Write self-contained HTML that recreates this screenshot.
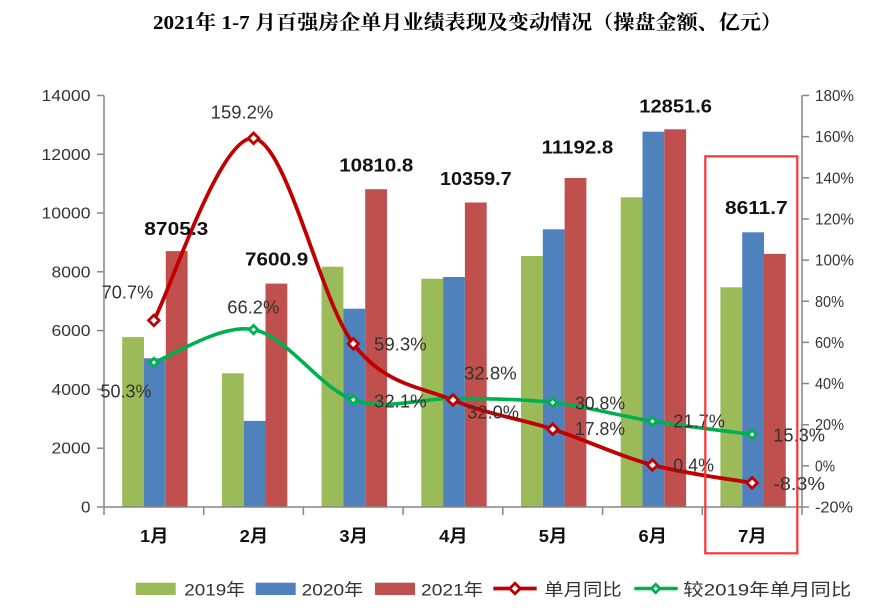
<!DOCTYPE html>
<html>
<head>
<meta charset="utf-8">
<style>
  html, body { margin: 0; padding: 0; background: #ffffff; }
  body { width: 894px; height: 615px; overflow: hidden; }
  svg { display: block; }
  .ax { font-family: "Liberation Sans", "Noto Sans CJK SC", sans-serif; font-size: 15.5px; fill: #333; }
  .pct { font-family: "Liberation Sans", "Noto Sans CJK SC", sans-serif; font-size: 18px; fill: #333; }
  .bold { font-family: "Liberation Sans", "Noto Sans CJK SC", sans-serif; font-size: 18px; font-weight: bold; fill: #111; }
  .cat { font-family: "Liberation Sans", "Noto Sans CJK SC", sans-serif; font-size: 17.5px; font-weight: bold; fill: #111; }
  .leg { font-family: "Liberation Sans", "Noto Sans CJK SC", sans-serif; font-size: 17px; fill: #333; }
  .title { font-family: "Liberation Serif", "Noto Serif CJK SC", serif; font-size: 20px; font-weight: bold; fill: #000; }
</style>
</head>
<body>
<svg width="894" height="615" viewBox="0 0 894 615" xmlns="http://www.w3.org/2000/svg">
  <rect x="0" y="0" width="894" height="615" fill="#ffffff"/>

  <!-- Title -->
  <text class="title" x="153" y="29" textLength="629" lengthAdjust="spacingAndGlyphs">2021年 1-7 月百强房企单月业绩表现及变动情况（操盘金额、亿元）</text>

  <!-- Bars 2019 (green) -->
  <g fill="#9bbb59">
    <rect x="122.2" y="337.1" width="21.8" height="169.9"/>
    <rect x="221.9" y="373.3" width="21.8" height="133.7"/>
    <rect x="321.6" y="266.7" width="21.8" height="240.3"/>
    <rect x="421.3" y="278.7" width="21.8" height="228.3"/>
    <rect x="521.0" y="256.0" width="21.8" height="251.0"/>
    <rect x="620.7" y="197.3" width="21.8" height="309.7"/>
    <rect x="720.4" y="287.3" width="21.8" height="219.7"/>
  </g>
  <!-- Bars 2020 (blue) -->
  <g fill="#4f81bd">
    <rect x="144.0" y="358.3" width="21.8" height="148.7"/>
    <rect x="243.7" y="420.9" width="21.8" height="86.1"/>
    <rect x="343.4" y="308.7" width="21.8" height="198.3"/>
    <rect x="443.1" y="277.0" width="21.8" height="230.0"/>
    <rect x="542.8" y="229.3" width="21.8" height="277.7"/>
    <rect x="642.5" y="131.7" width="21.8" height="375.3"/>
    <rect x="742.2" y="232.3" width="21.8" height="274.7"/>
  </g>
  <!-- Bars 2021 (red) -->
  <g fill="#c0504d">
    <rect x="165.8" y="251.1" width="21.8" height="255.9"/>
    <rect x="265.5" y="283.6" width="21.8" height="223.4"/>
    <rect x="365.2" y="189.2" width="21.8" height="317.8"/>
    <rect x="464.9" y="202.5" width="21.8" height="304.5"/>
    <rect x="564.6" y="178.0" width="21.8" height="329.0"/>
    <rect x="664.3" y="129.3" width="21.8" height="377.7"/>
    <rect x="764.0" y="253.9" width="21.8" height="253.1"/>
  </g>

  <!-- Axes -->
  <g stroke="#868686" stroke-width="1.5" fill="none">
    <line x1="104" y1="95.5" x2="104" y2="507"/>
    <line x1="802" y1="95.5" x2="802" y2="507"/>
    <line x1="104" y1="507" x2="802" y2="507"/>
    <line x1="97" y1="95.5" x2="104" y2="95.5"/>
    <line x1="97" y1="154.3" x2="104" y2="154.3"/>
    <line x1="97" y1="213.0" x2="104" y2="213.0"/>
    <line x1="97" y1="271.8" x2="104" y2="271.8"/>
    <line x1="97" y1="330.6" x2="104" y2="330.6"/>
    <line x1="97" y1="389.4" x2="104" y2="389.4"/>
    <line x1="97" y1="448.2" x2="104" y2="448.2"/>
    <line x1="97" y1="507" x2="104" y2="507"/>
    <line x1="802" y1="95.5" x2="809" y2="95.5"/>
    <line x1="802" y1="136.65" x2="809" y2="136.65"/>
    <line x1="802" y1="177.8" x2="809" y2="177.8"/>
    <line x1="802" y1="218.95" x2="809" y2="218.95"/>
    <line x1="802" y1="260.1" x2="809" y2="260.1"/>
    <line x1="802" y1="301.25" x2="809" y2="301.25"/>
    <line x1="802" y1="342.4" x2="809" y2="342.4"/>
    <line x1="802" y1="383.55" x2="809" y2="383.55"/>
    <line x1="802" y1="424.7" x2="809" y2="424.7"/>
    <line x1="802" y1="465.85" x2="809" y2="465.85"/>
    <line x1="802" y1="507" x2="809" y2="507"/>
    <line x1="104" y1="507" x2="104" y2="515"/>
    <line x1="203.7" y1="507" x2="203.7" y2="515"/>
    <line x1="303.4" y1="507" x2="303.4" y2="515"/>
    <line x1="403.1" y1="507" x2="403.1" y2="515"/>
    <line x1="502.8" y1="507" x2="502.8" y2="515"/>
    <line x1="602.6" y1="507" x2="602.6" y2="515"/>
    <line x1="702.3" y1="507" x2="702.3" y2="515"/>
    <line x1="802" y1="507" x2="802" y2="515"/>
  </g>

  <!-- Left axis labels -->
  <g class="ax" text-anchor="end">
    <text x="90.5" y="101" textLength="49" lengthAdjust="spacingAndGlyphs">14000</text>
    <text x="90.5" y="159.8" textLength="49" lengthAdjust="spacingAndGlyphs">12000</text>
    <text x="90.5" y="218.5" textLength="49" lengthAdjust="spacingAndGlyphs">10000</text>
    <text x="90.5" y="277.3" textLength="39" lengthAdjust="spacingAndGlyphs">8000</text>
    <text x="90.5" y="336.1" textLength="39" lengthAdjust="spacingAndGlyphs">6000</text>
    <text x="90.5" y="394.9" textLength="39" lengthAdjust="spacingAndGlyphs">4000</text>
    <text x="90.5" y="453.7" textLength="39" lengthAdjust="spacingAndGlyphs">2000</text>
    <text x="90.5" y="512.5" textLength="9.5" lengthAdjust="spacingAndGlyphs">0</text>
  </g>

  <!-- Right axis labels -->
  <g class="ax">
    <text x="815" y="101" textLength="39" lengthAdjust="spacingAndGlyphs">180%</text>
    <text x="815" y="142.15" textLength="39" lengthAdjust="spacingAndGlyphs">160%</text>
    <text x="815" y="183.3" textLength="39" lengthAdjust="spacingAndGlyphs">140%</text>
    <text x="815" y="224.45" textLength="39" lengthAdjust="spacingAndGlyphs">120%</text>
    <text x="815" y="265.6" textLength="39" lengthAdjust="spacingAndGlyphs">100%</text>
    <text x="815" y="306.75" textLength="29" lengthAdjust="spacingAndGlyphs">80%</text>
    <text x="815" y="347.9" textLength="29" lengthAdjust="spacingAndGlyphs">60%</text>
    <text x="815" y="389.05" textLength="29" lengthAdjust="spacingAndGlyphs">40%</text>
    <text x="815" y="430.2" textLength="29" lengthAdjust="spacingAndGlyphs">20%</text>
    <text x="815" y="471.35" textLength="20" lengthAdjust="spacingAndGlyphs">0%</text>
    <text x="815" y="512.5" textLength="38" lengthAdjust="spacingAndGlyphs">-20%</text>
  </g>

  <!-- Category labels -->
  <g class="cat">
    <text x="140" y="542" textLength="28.5" lengthAdjust="spacingAndGlyphs">1月</text>
    <text x="239.7" y="542" textLength="28.5" lengthAdjust="spacingAndGlyphs">2月</text>
    <text x="339.4" y="542" textLength="28.5" lengthAdjust="spacingAndGlyphs">3月</text>
    <text x="439.1" y="542" textLength="28.5" lengthAdjust="spacingAndGlyphs">4月</text>
    <text x="538.8" y="542" textLength="28.5" lengthAdjust="spacingAndGlyphs">5月</text>
    <text x="638.5" y="542" textLength="28.5" lengthAdjust="spacingAndGlyphs">6月</text>
    <text x="738.2" y="542" textLength="28.5" lengthAdjust="spacingAndGlyphs">7月</text>
  </g>

  <!-- Green line -->
  <path d="M153.86,362.4 C170.46,356.93 220.33,323.37 253.57,329.6 C286.81,335.83 320.04,388.33 353.28,399.8 C386.52,411.27 419.75,397.95 452.99,398.4 C486.23,398.85 519.46,398.7 552.70,402.5 C585.94,406.3 619.17,415.88 652.41,421.2 C685.65,426.52 735.52,432.2 752.12,434.4"
        fill="none" stroke="#00b050" stroke-width="3.6" stroke-linecap="round" stroke-linejoin="round"/>

  <!-- Red line -->
  <path d="M153.86,320.4 C170.46,290.05 220.33,134.4 253.57,138.3 C286.81,142.2 320.04,300.18 353.28,343.8 C384.52,384.42 416.75,385.77 452.99,400 C486.23,414.23 519.46,418.37 552.70,429.2 C585.94,440.03 619.17,456.05 652.41,465 C685.65,473.95 735.52,479.92 752.12,482.9"
        fill="none" stroke="#c00000" stroke-width="3.8" stroke-linecap="round" stroke-linejoin="round"/>

  <!-- Green markers -->
  <g fill="#ffffff" stroke="#00b050" stroke-width="2.8">
    <polygon points="153.86,358.2 158.06,362.4 153.86,366.6 149.66,362.4"/>
    <polygon points="253.57,325.4 257.77,329.6 253.57,333.8 249.37,329.6"/>
    <polygon points="353.28,395.6 357.48,399.8 353.28,404.0 349.08,399.8"/>
    <polygon points="452.99,394.2 457.19,398.4 452.99,402.6 448.79,398.4"/>
    <polygon points="552.70,398.3 556.90,402.5 552.70,406.7 548.50,402.5"/>
    <polygon points="652.41,417.0 656.61,421.2 652.41,425.4 648.21,421.2"/>
    <polygon points="752.12,430.2 756.32,434.4 752.12,438.6 747.92,434.4"/>
  </g>

  <!-- Red markers -->
  <g fill="#ffffff" stroke="#c00000" stroke-width="2.8">
    <polygon points="153.86,315.1 159.16,320.4 153.86,325.7 148.56,320.4"/>
    <polygon points="253.57,133.0 258.87,138.3 253.57,143.6 248.27,138.3"/>
    <polygon points="353.28,338.5 358.58,343.8 353.28,349.1 347.98,343.8"/>
    <polygon points="452.99,394.7 458.29,400.0 452.99,405.3 447.69,400.0"/>
    <polygon points="552.70,423.9 558.00,429.2 552.70,434.5 547.40,429.2"/>
    <polygon points="652.41,459.7 657.71,465.0 652.41,470.3 647.11,465.0"/>
    <polygon points="752.12,477.6 757.42,482.9 752.12,488.2 746.82,482.9"/>
  </g>

  <!-- Bar data labels (2021) -->
  <g class="bold">
    <text x="144.3" y="235" textLength="64" lengthAdjust="spacingAndGlyphs">8705.3</text>
    <text x="245" y="265.7" textLength="63.3" lengthAdjust="spacingAndGlyphs">7600.9</text>
    <text x="339.3" y="171.7" textLength="74" lengthAdjust="spacingAndGlyphs">10810.8</text>
    <text x="440" y="185" textLength="71.7" lengthAdjust="spacingAndGlyphs">10359.7</text>
    <text x="541.7" y="153.5" textLength="71.6" lengthAdjust="spacingAndGlyphs">11192.8</text>
    <text x="639.3" y="112.3" textLength="72.7" lengthAdjust="spacingAndGlyphs">12851.6</text>
    <text x="725" y="214" textLength="62.7" lengthAdjust="spacingAndGlyphs">8611.7</text>
  </g>

  <!-- Percent labels -->
  <g class="pct">
    <text x="101.7" y="298.3" textLength="51.6" lengthAdjust="spacingAndGlyphs">70.7%</text>
    <text x="210.7" y="118.3" textLength="62.6" lengthAdjust="spacingAndGlyphs">159.2%</text>
    <text x="227.3" y="313.3" textLength="52" lengthAdjust="spacingAndGlyphs">66.2%</text>
    <text x="100.5" y="397.3" textLength="51" lengthAdjust="spacingAndGlyphs">50.3%</text>
    <text x="374" y="350.7" textLength="52.7" lengthAdjust="spacingAndGlyphs">59.3%</text>
    <text x="464" y="379.3" textLength="52.7" lengthAdjust="spacingAndGlyphs">32.8%</text>
    <text x="374" y="407.7" textLength="52.7" lengthAdjust="spacingAndGlyphs">32.1%</text>
    <text x="467.3" y="418.3" textLength="51.7" lengthAdjust="spacingAndGlyphs">32.0%</text>
    <text x="575" y="409.3" textLength="50" lengthAdjust="spacingAndGlyphs">30.8%</text>
    <text x="575" y="435" textLength="50" lengthAdjust="spacingAndGlyphs">17.8%</text>
    <text x="673.3" y="427.3" textLength="51.7" lengthAdjust="spacingAndGlyphs">21.7%</text>
    <text x="673.3" y="471.7" textLength="40.7" lengthAdjust="spacingAndGlyphs">0.4%</text>
    <text x="773.3" y="441.7" textLength="51.7" lengthAdjust="spacingAndGlyphs">15.3%</text>
    <text x="773.3" y="490" textLength="51.7" lengthAdjust="spacingAndGlyphs">-8.3%</text>
  </g>

  <!-- Highlight box -->
  <rect x="705.3" y="156.3" width="92" height="397" fill="none" stroke="#ff3333" stroke-width="2.2"/>

  <!-- Legend -->
  <rect x="135.7" y="582.7" width="40" height="12.3" fill="#9bbb59"/>
  <text class="leg" x="184.3" y="595.5" textLength="60.7" lengthAdjust="spacingAndGlyphs">2019年</text>
  <rect x="255.7" y="582.7" width="40" height="12.3" fill="#4f81bd"/>
  <text class="leg" x="301.7" y="595.5" textLength="61.6" lengthAdjust="spacingAndGlyphs">2020年</text>
  <rect x="375" y="582.7" width="40" height="12.3" fill="#c0504d"/>
  <text class="leg" x="421" y="595.5" textLength="62" lengthAdjust="spacingAndGlyphs">2021年</text>

  <line x1="493.3" y1="588.5" x2="536.7" y2="588.5" stroke="#c00000" stroke-width="3.8"/>
  <polygon points="515,583.2 520.3,588.5 515,593.8 509.7,588.5" fill="#ffffff" stroke="#c00000" stroke-width="2.8"/>
  <text class="leg" x="544.3" y="595.5" textLength="77.4" lengthAdjust="spacingAndGlyphs">单月同比</text>

  <line x1="634.3" y1="588.5" x2="677.7" y2="588.5" stroke="#00b050" stroke-width="3.6"/>
  <polygon points="655.7,584.3 659.9,588.5 655.7,592.7 651.5,588.5" fill="#ffffff" stroke="#00b050" stroke-width="2.8"/>
  <text class="leg" x="683.3" y="595.5" textLength="168" lengthAdjust="spacingAndGlyphs">较2019年单月同比</text>
</svg>
</body>
</html>
